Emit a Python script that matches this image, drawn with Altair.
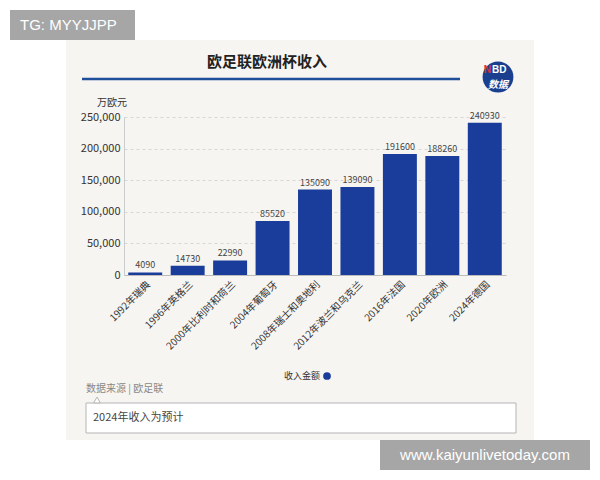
import altair as alt
import pandas as pd

categories = ["1992年瑞典", "1996年英格兰", "2000年比利时和荷兰", "2004年葡萄牙",
              "2008年瑞士和奥地利", "2012年波兰和乌克兰", "2016年法国", "2020年欧洲", "2024年德国"]
values = [4090, 14730, 22990, 85520, 135090, 139090, 191600, 188260, 240930]
y_ticks = [0, 50000, 100000, 150000, 200000, 250000]

FONT = "Noto Sans CJK SC"
BLUE = "#1a3d9c"
CREAM = "#f7f5f1"
W, H = 382, 158

df = pd.DataFrame({"cat": categories, "val": values})
one = pd.DataFrame({"a": [0]})

def rect(x, x2, y, y2, **kw):
    return alt.Chart(one).mark_rect(**kw).encode(
        x=alt.value(x), x2=alt.value(x2), y=alt.value(y), y2=alt.value(y2))

def txt(x, y, text, font=FONT, **kw):
    return alt.Chart(one).mark_text(font=font, text=text, **kw).encode(
        x=alt.value(x), y=alt.value(y))

# white frame around the cream panel (background is cream)
frame = [
    rect(-130, 510, -120, -77, color="white"),
    rect(-130, -58, -120, 380, color="white"),
    rect(410, 510, -120, 380, color="white"),
    rect(-130, 510, 323, 380, color="white"),
]
tg_box = rect(-114, 11, -107, -77, color="#a6a6a6")
tg_txt = txt(-104, -92, "TG: MYYJJPP", fontSize=15, color="white", align="left", baseline="middle", font="Liberation Sans")
www_box = rect(256, 466, 323, 353, color="#a6a6a6")
www_txt = txt(361, 338, "www.kaiyunlivetoday.com", fontSize=15, color="white", align="center", baseline="middle", font="Liberation Sans")

title = txt(143, -55, "欧足联欧洲杯收入", fontSize=15, fontWeight="bold", color="#222", align="center", baseline="middle")
title_line = alt.Chart(one).mark_rule(color="#1f4e9a", strokeWidth=2.5).encode(
    x=alt.value(-42), x2=alt.value(336), y=alt.value(-38))
logo = alt.Chart(one).mark_point(filled=True, shape="circle", size=950, color="#1a3f8f", opacity=1).encode(
    x=alt.value(374), y=alt.value(-40))
logo_n = txt(367, -47, "N", fontSize=10, fontWeight="bold", color="#e03030", align="right", baseline="middle", font="Liberation Sans")
logo_bd = txt(368, -47, "BD", fontSize=10, fontWeight="bold", color="white", align="left", baseline="middle", font="Liberation Sans")
logo_sj = txt(374, -32, "数据", fontSize=10, fontWeight="bold", fontStyle="italic", color="white", align="center", baseline="middle")

unit = txt(-12, -14, "万欧元", fontSize=10, color="#333", align="center", baseline="middle")

legend_t = txt(196, 259, "收入金额", fontSize=9, color="#333", align="right", baseline="middle")
legend_c = alt.Chart(one).mark_point(filled=True, shape="circle", size=60, color=BLUE, opacity=1).encode(
    x=alt.value(203), y=alt.value(259))

source = txt(-38, 272, "数据来源 | 欧足联", fontSize=10, color="#888", align="left", baseline="middle")
note_box = rect(-38, 392, 286, 316, fill="white", stroke="#b5b5b5", strokeWidth=1)
pointer = alt.Chart(one).mark_point(shape="triangle-up", size=45, fill="white", stroke="#b5b5b5", opacity=1, filled=False, strokeWidth=1).encode(
    x=alt.value(-27), y=alt.value(283))
note = txt(-31, 301, "2024年收入为预计", fontSize=11, color="#444", align="left", baseline="middle")

x_enc = alt.X("cat:N", sort=categories, title=None,
              scale=alt.Scale(paddingInner=0.2, paddingOuter=0.1),
              axis=alt.Axis(labelAngle=-45, labelFontSize=10, labelColor="#333", labelFont=FONT,
                            ticks=False, domainColor="#bbb", labelPadding=4))
y_enc = alt.Y("val:Q", title=None, scale=alt.Scale(domain=[0, 250000], nice=False),
              axis=alt.Axis(values=y_ticks, format=",.0f", labelFontSize=11, labelColor="#333",
                            labelFont=FONT, ticks=False, domainColor="#ccc", labelOverlap=False,
                            gridColor="#d6d6d6", gridDash=[3, 3], labelPadding=4))

base = alt.Chart(df)
bars = base.mark_bar(color=BLUE).encode(x=x_enc, y=y_enc)
labels = base.mark_text(font=FONT, fontSize=9, color="#444", dy=-7).encode(
    x=x_enc, y=y_enc, text="val:Q")

chart = alt.layer(
    *frame, tg_box, tg_txt, www_box, www_txt, title, title_line, logo, logo_n, logo_bd, logo_sj,
    unit, bars, labels, legend_t, legend_c, source, note_box, pointer, note
).properties(
    width=W, height=H,
    autosize=alt.AutoSizeParams(type="none"),
    padding={"left": 116, "top": 109, "right": 86, "bottom": 197},
    background=CREAM,
).configure_view(stroke=None)

chart.save("out.html", embed_options={"renderer": "svg", "actions": False})
